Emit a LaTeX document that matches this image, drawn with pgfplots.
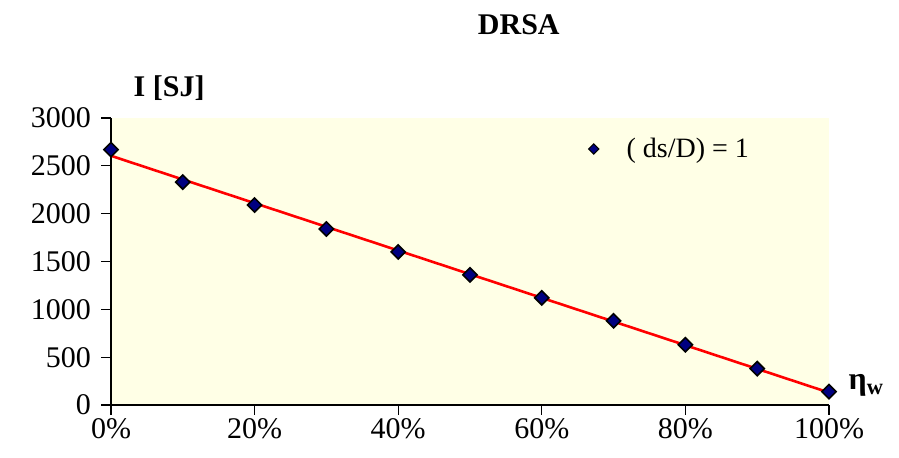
\documentclass[border=0pt]{standalone}
\usepackage{fontspec}
\setmainfont{Liberation Serif}
\usepackage{pgfplots}
\pgfplotsset{compat=1.18}
\definecolor{bgyellow}{RGB}{255,255,230}
\definecolor{navymark}{RGB}{0,0,128}
\begin{document}
\begin{tikzpicture}
\useasboundingbox (-55.5pt,-26pt) rectangle (394pt,202.5pt);
\fill[bgyellow] (0,0) rectangle (359pt,143.5pt);
\begin{axis}[
  at={(0,0)}, anchor=south west,
  scale only axis,
  width=359pt, height=143.5pt,
  xmin=0, xmax=1, ymin=0, ymax=3000,
  axis line style={draw=none},
  xtick pos=left, ytick pos=left,
  xtick={0,0.2,0.4,0.6,0.8,1},
  xticklabels={0\%,20\%,40\%,60\%,80\%,100\%},
  ytick={0,500,1000,1500,2000,2500,3000},
  major tick length=0pt,
  ticklabel style={font=\fontsize{15}{18}\selectfont},
  xticklabel style={yshift=-3pt},
  yticklabel style={xshift=-6.5pt},
  /pgf/number format/assume math mode=true,
  /pgf/number format/1000 sep={},
  clip=false,
  legend style={draw=none, fill=none, at={(rel axis cs:0.655,0.892)}, anchor=west,
    font=\fontsize{14}{16}\selectfont, legend cell align=left},
]
\draw[black, line width=0.6pt] (rel axis cs:0,1) -- (rel axis cs:0,0) -- (rel axis cs:1,0);
\pgfplotsinvokeforeach{0,0.2,0.4,0.6,0.8,1}{
  \draw[black, line width=0.6pt] (axis cs:#1,0) -- ++(0pt,-5pt);
}
\pgfplotsinvokeforeach{0,500,1000,1500,2000,2500,3000}{
  \draw[black, line width=0.6pt] (axis cs:0,#1) -- ++(-5pt,0pt);
}
\addplot[red, line width=1.3pt, forget plot] coordinates {(0,2605) (1,130)};
\addplot[only marks, mark=square*, mark size=2.5pt,
  mark options={rotate=45, fill=navymark, draw=black, line width=0.8pt},
  legend image code/.code={\path (0cm,0cm) (0.6cm,0cm);
    \draw[mark=square*, mark size=1.8pt, mark options={rotate=45, fill=navymark, draw=black, line width=0.5pt}] plot coordinates {(0.1cm,0cm)};}]
  coordinates {
  (0,2670) (0.1,2330) (0.2,2090) (0.3,1840) (0.4,1600) (0.5,1360)
  (0.6,1120) (0.7,880) (0.8,630) (0.9,380) (1.0,140)};
\addlegendentry{( ds/D) = 1}
\node[font=\fontsize{15}{18}\selectfont\bfseries] at (rel axis cs:0.568,1.324) {DRSA};
\node[font=\fontsize{15}{18}\selectfont\bfseries] at (rel axis cs:0.081,1.105) {I [SJ]};
\node[font=\fontsize{16}{18}\selectfont\bfseries] at (rel axis cs:1.052,0.07) {η\textsubscript{w}};
\end{axis}
\end{tikzpicture}
\end{document}
